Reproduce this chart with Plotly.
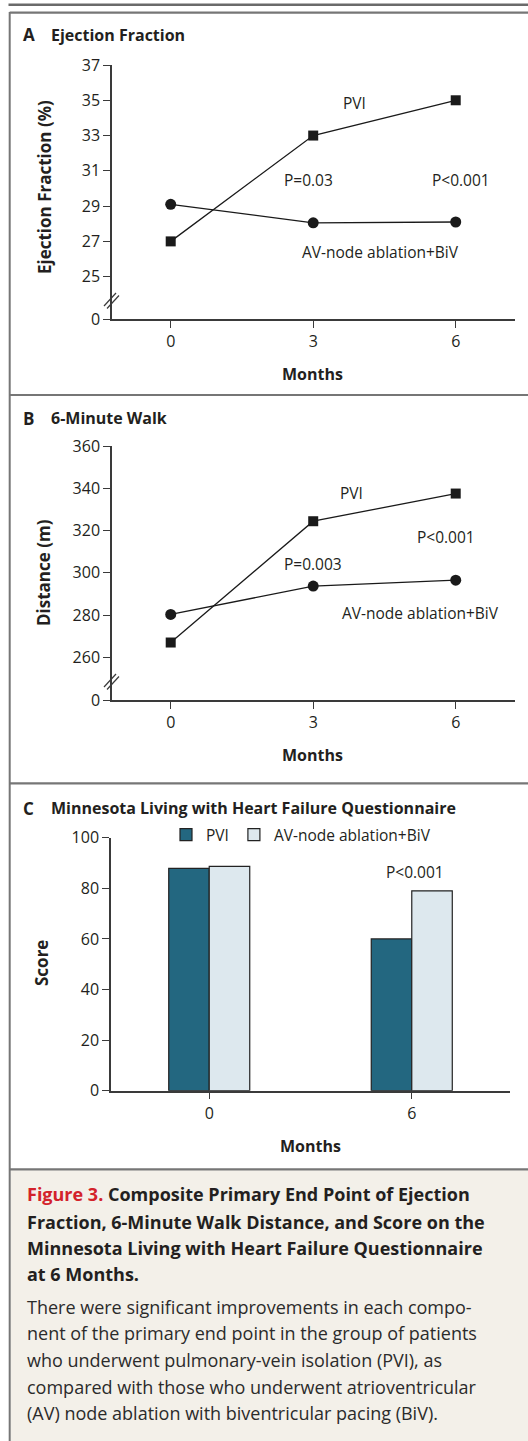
import plotly.graph_objects as go

# ---------------- data ----------------
months = [0, 3, 6]
ef_pvi = [27.0, 33.0, 35.0]
ef_av = [29.1, 28.05, 28.1]
walk_pvi = [267.0, 324.4, 337.5]
walk_av = [280.3, 293.7, 296.5]
score_months = ["0", "6"]
score_pvi = [87.9, 60.0]
score_av = [88.7, 79.0]
ef_ticks = [25, 27, 29, 31, 33, 35, 37]
walk_ticks = [260, 280, 300, 320, 340, 360]
score_ticks = [0, 20, 40, 60, 80, 100]
month_ticks = [0, 3, 6]

W, H = 528, 1441
FONT = "'Open Sans', 'Noto Sans', sans-serif"
TXT = "#231f20"
AX = "#3a3a3a"
FR = "#767676"


def X(px):
    return px / W


def Y(py):
    return 1 - py / H


fig = go.Figure()

# Panel A lines
fig.add_trace(go.Scatter(x=months, y=ef_pvi, mode="lines+markers", name="PVI",
                         line=dict(color="#1a1a1a", width=1.3),
                         marker=dict(symbol="square", size=10, color="#1a1a1a"),
                         xaxis="x", yaxis="y", showlegend=False))
fig.add_trace(go.Scatter(x=months, y=ef_av, mode="lines+markers", name="AV-node ablation+BiV",
                         line=dict(color="#1a1a1a", width=1.3),
                         marker=dict(symbol="circle", size=11, color="#1a1a1a"),
                         xaxis="x", yaxis="y", showlegend=False))
# Panel B lines
fig.add_trace(go.Scatter(x=months, y=walk_pvi, mode="lines+markers", name="PVI",
                         line=dict(color="#1a1a1a", width=1.3),
                         marker=dict(symbol="square", size=10, color="#1a1a1a"),
                         xaxis="x2", yaxis="y2", showlegend=False))
fig.add_trace(go.Scatter(x=months, y=walk_av, mode="lines+markers", name="AV-node ablation+BiV",
                         line=dict(color="#1a1a1a", width=1.3),
                         marker=dict(symbol="circle", size=11, color="#1a1a1a"),
                         xaxis="x2", yaxis="y2", showlegend=False))
# Panel C bars
fig.add_trace(go.Bar(x=score_months, y=score_pvi, name="PVI",
                     marker=dict(color="#236780", line=dict(color="#222222", width=1.2)),
                     xaxis="x3", yaxis="y3"))
fig.add_trace(go.Bar(x=score_months, y=score_av, name="AV-node ablation+BiV",
                     marker=dict(color="#dde8ee", line=dict(color="#222222", width=1.2)),
                     xaxis="x3", yaxis="y3"))

axis_common = dict(showline=True, linecolor=AX, linewidth=1.5, ticks="outside",
                   tickcolor=AX, tickwidth=1.3, ticklen=7, showgrid=False, zeroline=False,
                   automargin=False,
                   tickfont=dict(family=FONT, size=16, color=TXT), fixedrange=True)

ef_zero = 22.6
walk_zero = 239.8

fig.update_layout(
    template="none",
    width=W, height=H, margin=dict(l=0, r=0, t=0, b=0, pad=0, autoexpand=False),
    autosize=False,
    paper_bgcolor="white", plot_bgcolor="rgba(0,0,0,0)",
    font=dict(family=FONT, color=TXT),
    barmode="group", bargap=0.6, bargroupgap=0,
    xaxis=dict(domain=[X(112), X(515)], range=[-1.236, 7.248], anchor="y",
               tickvals=month_ticks, **axis_common),
    yaxis=dict(domain=[Y(319), Y(65)], range=[ef_zero, 37], anchor="x",
               tickvals=[ef_zero] + ef_ticks, ticktext=["0"] + [str(t) for t in ef_ticks],
               **axis_common),
    xaxis2=dict(domain=[X(112), X(515)], range=[-1.236, 7.248], anchor="y2",
                tickvals=month_ticks, **axis_common),
    yaxis2=dict(domain=[Y(700), Y(446)], range=[walk_zero, 360], anchor="x2",
                tickvals=[walk_zero] + walk_ticks, ticktext=["0"] + [str(t) for t in walk_ticks],
                **axis_common),
    xaxis3=dict(domain=[X(111), X(510)], range=[-0.485, 1.485], anchor="y3",
                type="category", **axis_common),
    yaxis3=dict(domain=[Y(1090.7), Y(837.7)], range=[0, 100], anchor="x3",
                tickvals=score_ticks, **axis_common),
    legend=dict(orientation="h", x=X(166), y=Y(835), xanchor="left", yanchor="middle",
                font=dict(family=FONT, size=15.5, color=TXT), bgcolor="rgba(0,0,0,0)",
                itemclick=False, itemdoubleclick=False, traceorder="normal"),
)

shapes = []
# frame lines
shapes.append(dict(type="line", xref="paper", yref="paper", x0=X(8.5), x1=X(528), y0=Y(4.7), y1=Y(4.7),
                   line=dict(color="#6a6a6a", width=2.5)))
shapes.append(dict(type="rect", xref="paper", yref="paper", x0=X(10.7), x1=X(530), y0=Y(1170.3), y1=Y(1441),
                   fillcolor="#f3f0e9", line=dict(width=0), layer="below"))
shapes.append(dict(type="line", xref="paper", yref="paper", x0=X(9.7), x1=X(9.7), y0=Y(12), y1=Y(1441),
                   line=dict(color=FR, width=2)))
for yy in [12.7, 395, 783.3, 1169.3]:
    shapes.append(dict(type="line", xref="paper", yref="paper", x0=X(9.7), x1=X(530), y0=Y(yy), y1=Y(yy),
                       line=dict(color=FR, width=2.2)))
# axis break marks
for base in [319, 700]:
    for dx, dy in [(0, 0), (3, 2.5)]:
        shapes.append(dict(type="line", xref="paper", yref="paper",
                           x0=X(104 + dx), y0=Y(base - 13 + dy), x1=X(116 + dx), y1=Y(base - 26 + dy),
                           line=dict(color=AX, width=1.2)))
fig.update_layout(shapes=shapes)

ann = []


def txt(px, py, s, size=15.5, bold=False, xanchor="center", angle=0, color=TXT):
    if bold:
        s = "<b>" + s + "</b>"
    ann.append(dict(xref="paper", yref="paper", x=X(px), y=Y(py), text=s, showarrow=False,
                    xanchor=xanchor, yanchor="middle", textangle=angle,
                    font=dict(family=FONT, size=size, color=color)))


# panel titles
for py, letter, title in [(35, "A", "Ejection Fraction"), (418, "B", "6-Minute Walk"),
                          (808.3, "C", "Minnesota Living with Heart Failure Questionnaire")]:
    txt(20.5, py, letter, size=17, bold=True, xanchor="left")
    txt(48.5, py, title, size=16, bold=True, xanchor="left")

# axis titles
txt(44, 187, "Ejection Fraction (%)", size=17, bold=True, angle=-90)
txt(43, 573, "Distance (m)", size=17, bold=True, angle=-90)
txt(42, 963, "Score", size=17, bold=True, angle=-90)
txt(312, 374, "Months", size=16, bold=True)
txt(312, 755, "Months", size=16, bold=True)
txt(310, 1145.7, "Months", size=16, bold=True)

# in-plot labels
txt(354, 102.7, "PVI")
txt(308, 180, "P=0.03")
txt(461, 180, "P<0.001")
txt(380.7, 251.7, "AV-node ablation+BiV")
txt(351.7, 492.7, "PVI")
txt(445.7, 536.7, "P<0.001")
txt(313.3, 564, "P=0.003")
txt(420, 613.3, "AV-node ablation+BiV")
txt(415, 871.7, "P<0.001")

# caption
title_lines = [
    "<span style='color:#d3222b'>Figure 3.</span> Composite Primary End Point of Ejection",
    "Fraction, 6-Minute Walk Distance, and Score on the",
    "Minnesota Living with Heart Failure Questionnaire",
    "at 6 Months.",
]
title_y = [1194.3, 1221.7, 1247.7, 1274.3]
for s, yy in zip(title_lines, title_y):
    txt(25, yy, s, size=18, bold=True, xanchor="left")
body_lines = [
    "There were significant improvements in each compo-",
    "nent of the primary end point in the group of patients",
    "who underwent pulmonary-vein isolation (PVI), as",
    "compared with those who underwent atrioventricular",
    "(AV) node ablation with biventricular pacing (BiV).",
]
body_y = [1306.7, 1333.3, 1360, 1386.7, 1413.3]
for s, yy in zip(body_lines, body_y):
    txt(25, yy, s, size=18, xanchor="left", color="#2b2b2b")

fig.update_layout(annotations=ann)

fig.write_html("out.html", include_plotlyjs=True, config={"displayModeBar": False},
               post_script="document.body.style.margin='0';document.body.style.overflow='hidden';")
